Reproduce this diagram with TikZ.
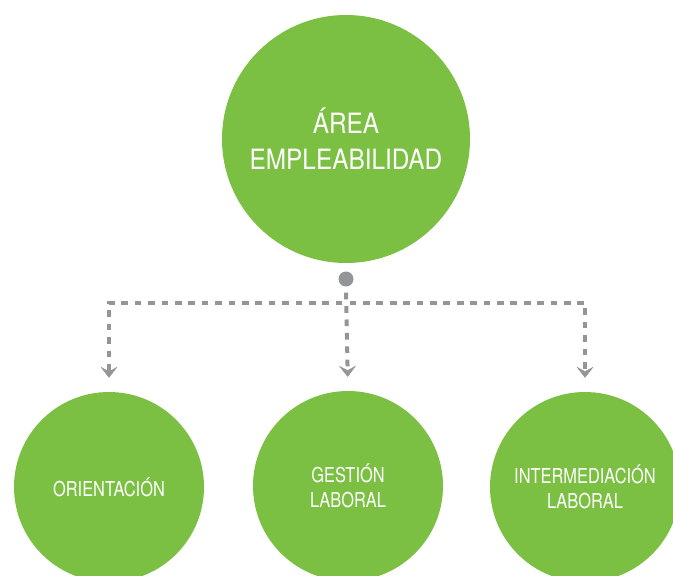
\documentclass[tikz,border=0pt]{standalone}
\usepackage{fontspec}
\setmainfont{TeX Gyre Heros}
\newfontfamily\bigf{TeX Gyre Heros}[FakeStretch=0.87]
\newfontfamily\smallf{TeX Gyre Heros}[FakeStretch=0.8]
\usetikzlibrary{arrows.meta}
\definecolor{leaf}{HTML}{7BC043}
\definecolor{ash}{HTML}{939598}
\tikzset{
  bigcircle/.style={circle, fill=leaf, draw=none, minimum size=248pt, inner sep=0pt, text=white, align=center, font=\bigf\fontsize{28}{36}\selectfont},
  subcircle/.style={circle, fill=leaf, draw=none, minimum size=190pt, inner sep=0pt, text=white, align=center, font=\smallf\fontsize{20.5}{24.5}\selectfont},
  hub/.style={circle, fill=ash, draw=none, minimum size=15pt, inner sep=0pt},
  conn/.style={draw=ash, line width=4pt, dash pattern=on 6.7pt off 6.7pt, dash phase=7.4pt, shorten >=14pt,
    -{Stealth[length=11pt, width=17pt, inset=4.5pt, line width=0.4pt, fill=ash]}},
}
\begin{document}
\begin{tikzpicture}[x=1pt, y=-1pt]
\useasboundingbox (0,0) rectangle (673,576);
\node[bigcircle] (main) at (346,139) {ÁREA\\EMPLEABILIDAD};
\node[hub] (dot) at (346,279) {};
\coordinate (split) at (346,302.5);
\node[subcircle] (ori) at (109,487) {ORIENTACIÓN};
\node[subcircle] (ges) at (348,486) {GESTIÓN\\LABORAL};
\node[subcircle] (int) at (585,487) {INTERMEDIACIÓN\\LABORAL};
\draw[conn] (dot.south) -- (split) -| (ori.north);
\draw[conn] (dot.south) -- (split) -| (int.north);
\draw[conn] (dot.south) -- (ges.north);
\end{tikzpicture}
\end{document}
